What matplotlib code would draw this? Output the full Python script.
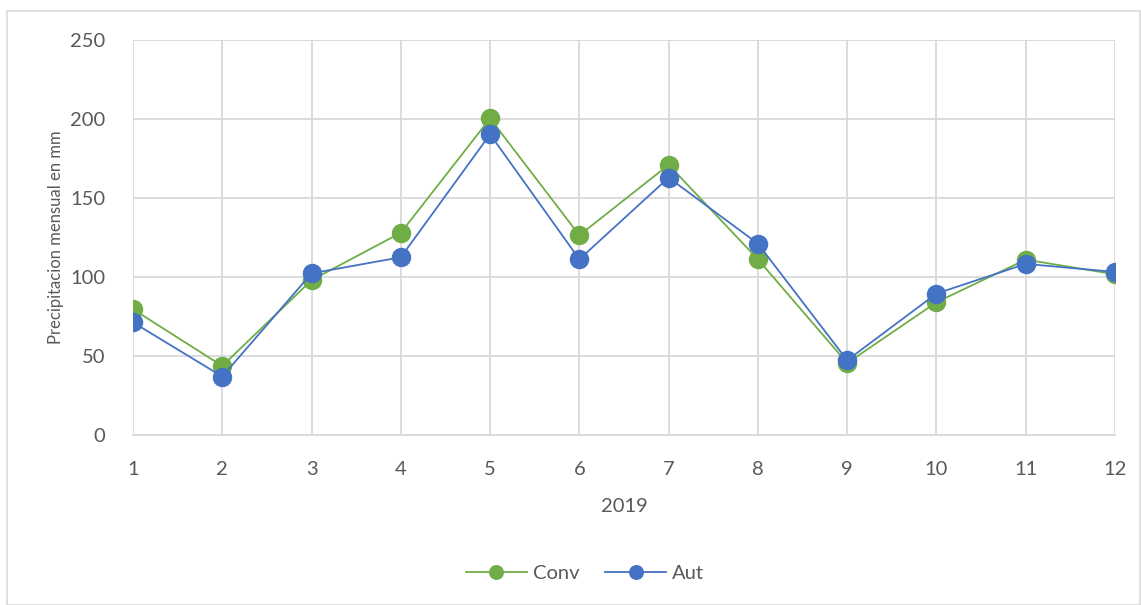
import matplotlib.pyplot as plt
from matplotlib.patches import Rectangle

plt.rcParams['font.family'] = ['Lato', 'DejaVu Sans']

# monthly precipitation 2019 (mm)
months = [1, 2, 3, 4, 5, 6, 7, 8, 9, 10, 11, 12]
conv = [79.6, 43.7, 98.0, 128.0, 200.4, 126.4, 171.0, 111.2, 45.5, 84.0, 111.0, 101.7]
aut = [71.3, 37.0, 102.3, 112.5, 190.3, 111.2, 162.9, 121.1, 47.3, 89.5, 108.3, 103.2]

green = '#70AD47'
blue = '#4472C4'
grid_c = '#D9D9D9'
txt_c = '#595959'

fig = plt.figure(figsize=(11.41, 6.05), dpi=100)
ax = fig.add_axes([133/1141, 1 - 435/605, (1115 - 133)/1141, (435 - 40)/605])

# outer chart border
fig.patches.append(Rectangle((7/1141, 0), 1 - 7/1141 - 0.001, 1 - 11/605,
                             transform=fig.transFigure, fill=False,
                             edgecolor=grid_c, linewidth=1.2))

ax.plot(months, conv, color=green, lw=1.3, marker='o', ms=13,
        markeredgecolor=green, label='Conv', zorder=3)
ax.plot(months, aut, color=blue, lw=1.3, marker='o', ms=13,
        markeredgecolor=blue, label='Aut', zorder=4)

ax.set_xlim(1, 12)
ax.set_ylim(0, 250)
ax.set_xticks(months)
ax.set_yticks(range(0, 251, 50))
ax.grid(True, color=grid_c, lw=1.3)
ax.set_axisbelow(True)
for s in ['top', 'right', 'left']:
    ax.spines[s].set_visible(False)
ax.spines['bottom'].set_color(grid_c)
ax.spines['bottom'].set_linewidth(1.3)
ax.tick_params(length=0, labelsize=14.5, colors=txt_c)
ax.tick_params(axis='x', pad=19)
ax.tick_params(axis='y', pad=20)
for lab in ax.get_xticklabels() + ax.get_yticklabels():
    lab.set_clip_on(False)

ax.set_xlabel('2019', fontsize=14.5, color=txt_c, labelpad=14)
ax.set_ylabel('Precipitacion mensual en mm', fontsize=12, color=txt_c, labelpad=4)

fig.legend(loc='center', bbox_to_anchor=(585/1141, 1 - 573/605), ncol=2,
           frameon=False, fontsize=14.5, labelcolor=txt_c, markerscale=0.75,
           handlelength=3, handletextpad=0.3, columnspacing=1.3)

fig.savefig('out.png', dpi=100)
